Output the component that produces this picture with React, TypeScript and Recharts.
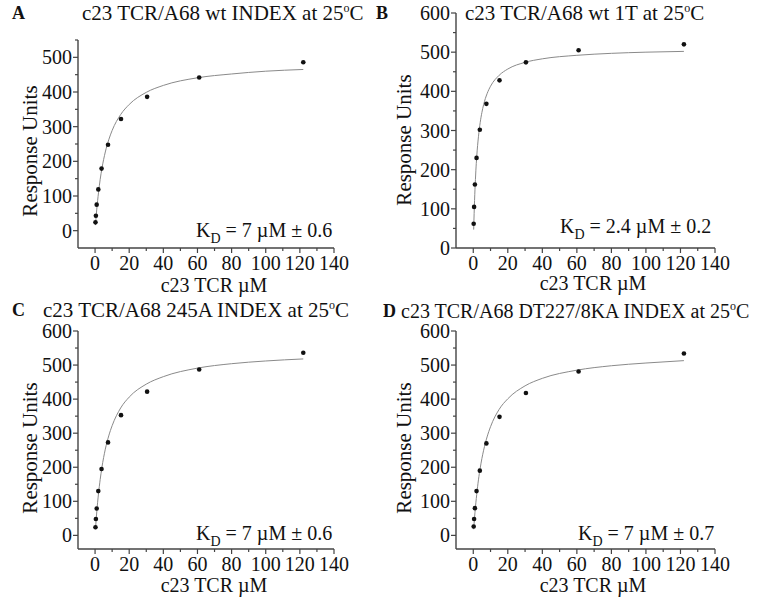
import React from "react";
import { ComposedChart, Line, Scatter, XAxis, YAxis } from "recharts";

// concentrations (two-fold dilution series), µM
const CONC = [0.24, 0.48, 0.95, 1.9, 3.8, 7.6, 15.2, 30.5, 61, 122];

// measured response units
const RU_A = [24, 43, 75, 119, 179, 248, 322, 386, 442, 486];
const RU_B = [62, 105, 162, 230, 302, 368, 428, 474, 505, 520];
const RU_C = [24, 48, 79, 130, 195, 273, 353, 422, 487, 536];
const RU_D = [26, 48, 80, 130, 190, 270, 348, 418, 481, 534];

// fitted binding curves
const FIT_X = [0.24, 0.5, 1, 2, 3, 4, 6, 8, 10, 15, 20, 30, 40, 60, 80, 100, 122];
const FIT_A = [16, 33, 62, 109, 148, 179, 227, 262, 289, 335, 364, 399, 419, 441, 452, 460, 465];
const FIT_C = [18, 36, 69, 122, 164, 199, 253, 292, 322, 374, 406, 444, 466, 491, 504, 512, 518];
const FIT_D = [18, 36, 68, 120, 163, 197, 250, 289, 319, 370, 401, 439, 461, 485, 498, 506, 513];
const FIT_X_B = [0.24, 0.5, 1, 1.5, 2, 3, 4, 5, 6, 8, 10, 15, 20, 30, 40, 60, 80, 100, 122];
const FIT_B = [47, 88, 150, 197, 233, 284, 320, 346, 366, 394, 413, 441, 457, 474, 483, 492, 497, 500, 502];

const X_TICKS = [-10, 0, 10, 20, 30, 40, 50, 60, 70, 80, 90, 100, 110, 120, 130, 140];
const Y_TICKS_A = [0, 50, 100, 150, 200, 250, 300, 350, 400, 450, 500, 550];
const Y_TICKS_600 = [0, 50, 100, 150, 200, 250, 300, 350, 400, 450, 500, 550, 600];

const FONT = "'Liberation Serif', 'Times New Roman', serif";
const AXIS = "#444";

const toPts = (xs: number[], ys: number[]) => xs.map((x, i) => ({ x, y: ys[i] }));

function XTick(p: any) {
  const v = p.payload.value;
  if (v === -10) return <g />;
  const major = v % 20 === 0;
  return (
    <g>
      <line x1={p.x} x2={p.x} y1={p.y} y2={p.y + (major ? 5 : 3)} stroke={AXIS} strokeWidth={1.2} />
      {major && (
        <text x={p.x} y={p.y + 22} textAnchor="middle" fontFamily={FONT} fontSize={20} fill="#111">
          {v}
        </text>
      )}
    </g>
  );
}

function YTick(p: any) {
  const v = p.payload.value;
  const major = v % 100 === 0;
  return (
    <g>
      <line x1={p.x} x2={p.x - (major ? 5 : 3)} y1={p.y} y2={p.y} stroke={AXIS} strokeWidth={1.2} />
      {major && (
        <text x={p.x - 6} y={p.y + 7} textAnchor="end" fontFamily={FONT} fontSize={20} fill="#111">
          {v}
        </text>
      )}
    </g>
  );
}

const Dot = (p: any) => <circle cx={p.cx} cy={p.cy} r={2.3} fill="#111" />;

type PanelProps = {
  px: number;
  py: number;
  w: number;
  h: number;
  plot: { l: number; t: number; r: number; b: number };
  yDomain: [number, number];
  yTicks: number[];
  points: { x: number; y: number }[];
  fit: { x: number; y: number }[];
};

const Y_W = 40;
const X_H = 30;

function Panel({ px, py, w, h, plot, yDomain, yTicks, points, fit }: PanelProps) {
  const margin = {
    left: plot.l - px - Y_W,
    top: plot.t - py,
    right: px + w - plot.r,
    bottom: py + h - plot.b - X_H,
  };
  return (
    <div style={{ position: "absolute", left: px, top: py }}>
      <ComposedChart width={w} height={h} margin={margin}>
        <XAxis
          dataKey="x"
          type="number"
          domain={[-10, 140]}
          ticks={X_TICKS}
          interval={0}
          height={X_H}
          tickLine={false}
          tickSize={0}
          tickMargin={0}
          tick={<XTick />}
          axisLine={{ stroke: AXIS, strokeWidth: 1.4 }}
          allowDataOverflow
        />
        <YAxis
          dataKey="y"
          type="number"
          domain={yDomain}
          ticks={yTicks}
          interval={0}
          width={Y_W}
          tickLine={false}
          tickSize={0}
          tickMargin={0}
          tick={<YTick />}
          axisLine={{ stroke: AXIS, strokeWidth: 1.4 }}
          allowDataOverflow
        />
        <Line
          data={fit}
          dataKey="y"
          type="monotone"
          stroke="#8a8a8a"
          strokeWidth={1}
          dot={false}
          activeDot={false}
          isAnimationActive={false}
        />
        <Scatter data={points} dataKey="y" shape={<Dot />} isAnimationActive={false} />
      </ComposedChart>
    </div>
  );
}

const txt: React.CSSProperties = {
  position: "absolute",
  fontFamily: FONT,
  fontSize: 20,
  lineHeight: 1,
  whiteSpace: "nowrap",
  color: "#111",
};

function Title({ x, y, letter, lx, size = 21, children }: { x: number; y: number; letter: string; lx: number; size?: number; children: React.ReactNode }) {
  return (
    <>
      <div style={{ ...txt, left: lx, top: y + 1, fontWeight: "bold", fontSize: 18 }}>{letter}</div>
      <div style={{ ...txt, left: x, top: y, fontSize: size }}>{children}</div>
    </>
  );
}

const Deg = () => (
  <span>
    25<sup style={{ fontSize: 12, verticalAlign: "top", position: "relative", top: -1 }}>o</sup>C
  </span>
);

function YLabel({ cx, cy }: { cx: number; cy: number }) {
  return (
    <div style={{ ...txt, left: cx, top: cy, fontSize: 21, transform: "translate(-50%, -50%) rotate(-90deg)" }}>
      Response Units
    </div>
  );
}

function XLabel({ cx, cy }: { cx: number; cy: number }) {
  return (
    <div style={{ ...txt, left: cx, top: cy, transform: "translate(-50%, -50%)" }}>c23 TCR µM</div>
  );
}

function KD({ x, y, value }: { x: number; y: number; value: string }) {
  return (
    <div style={{ ...txt, left: x, top: y }}>
      K<sub style={{ fontSize: 14, verticalAlign: "baseline", position: "relative", top: 6 }}>D</sub> = {value}
    </div>
  );
}

export default function App() {
  return (
    <div style={{ position: "absolute", left: 0, top: 0, width: 766, height: 597, background: "#fff", overflow: "hidden" }}>
      <Panel
        px={0}
        py={0}
        w={383}
        h={297}
        plot={{ l: 78, t: 40, r: 334, b: 248 }}
        yDomain={[-50, 550]}
        yTicks={Y_TICKS_A}
        points={toPts(CONC, RU_A)}
        fit={toPts(FIT_X, FIT_A)}
      />
      <Panel
        px={383}
        py={0}
        w={383}
        h={297}
        plot={{ l: 456, t: 13, r: 715, b: 248 }}
        yDomain={[0, 600]}
        yTicks={Y_TICKS_600}
        points={toPts(CONC, RU_B)}
        fit={toPts(FIT_X_B, FIT_B)}
      />
      <Panel
        px={0}
        py={297}
        w={383}
        h={300}
        plot={{ l: 78, t: 331, r: 334, b: 549 }}
        yDomain={[-40, 600]}
        yTicks={Y_TICKS_600}
        points={toPts(CONC, RU_C)}
        fit={toPts(FIT_X, FIT_C)}
      />
      <Panel
        px={383}
        py={297}
        w={383}
        h={300}
        plot={{ l: 456, t: 331, r: 715, b: 549 }}
        yDomain={[-40, 600]}
        yTicks={Y_TICKS_600}
        points={toPts(CONC, RU_D)}
        fit={toPts(FIT_X, FIT_D)}
      />

      <Title x={82} y={3} letter="A" lx={12}>
        c23 TCR/A68 wt INDEX at <Deg />
      </Title>
      <Title x={465} y={3} letter="B" lx={376}>
        c23 TCR/A68 wt 1T at <Deg />
      </Title>
      <Title x={43} y={300} letter="C" lx={12}>
        c23 TCR/A68 245A INDEX at <Deg />
      </Title>
      <Title x={401} y={301} letter="D" lx={383} size={20}>
        c23 TCR/A68 DT227/8KA INDEX at <Deg />
      </Title>

      <YLabel cx={30} cy={151} />
      <YLabel cx={404} cy={140} />
      <YLabel cx={30} cy={448} />
      <YLabel cx={404} cy={448} />

      <XLabel cx={214} cy={285} />
      <XLabel cx={593} cy={283} />
      <XLabel cx={214} cy={585} />
      <XLabel cx={593} cy={585} />

      <KD x={196} y={220} value="7 µM ± 0.6" />
      <KD x={560} y={216} value="2.4 µM ± 0.2" />
      <KD x={196} y={523} value="7 µM ± 0.6" />
      <KD x={578} y={523} value="7 µM ± 0.7" />
    </div>
  );
}
